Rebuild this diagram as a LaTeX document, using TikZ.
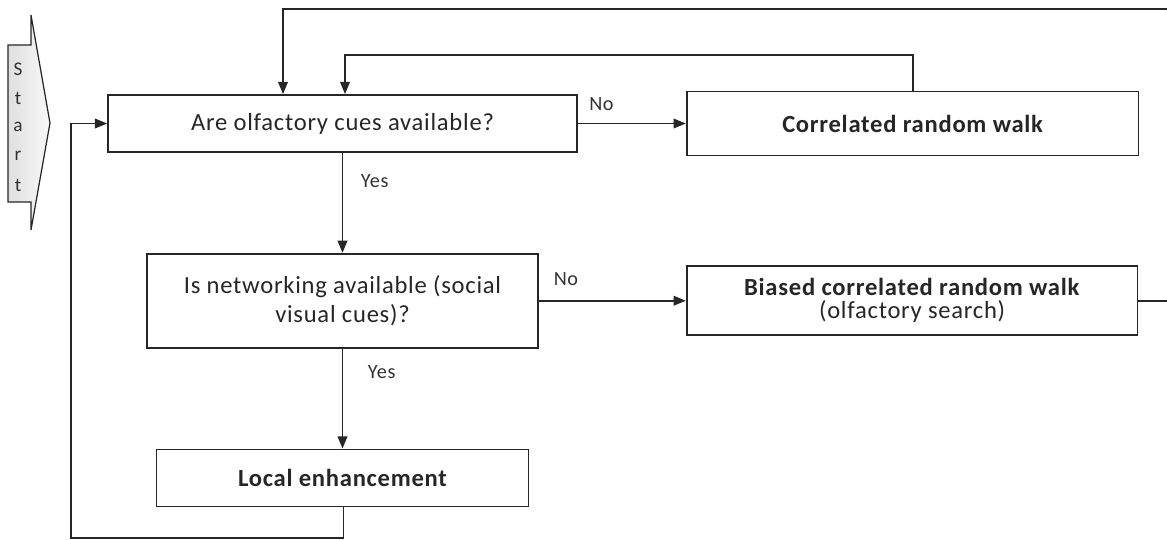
\documentclass[tikz,border=0pt]{standalone}
\usepackage{fontspec}
\setmainfont{Carlito}[LetterSpace=3]
\usetikzlibrary{arrows.meta, positioning}

\begin{document}
\begin{tikzpicture}[x=0.02cm, y=-0.02cm, line width=1pt, draw=black!85,
    >={Triangle[length=7pt, width=5.5pt]},
    box/.style={draw, rectangle, inner sep=2pt, align=center, text=black!85,
                font=\fontsize{14}{16.5}\selectfont},
    lbl/.style={inner sep=1pt, text=black!80, font=\fontsize{11.5}{13}\selectfont}]
    \clip (0,0) rectangle (1167,539);

    % start marker
    \draw[line width=0.7pt, left color=gray!25, right color=gray!5]
        (8,45) -- (31,45) -- (31,15) -- (50,123) -- (31,230) -- (31,202) -- (8,202) -- cycle;
    \foreach \l [count=\i] in {S,t,a,r,t}
        \node[lbl, font=\fontsize{11}{12}\selectfont] (st\i) at (18,40+29*\i) {\l};

    % boxes
    \node[box, minimum width=9.38cm, minimum height=1.14cm] (olf) at (342.5,123.5)
        {Are olfactory cues available?};
    \node[box, minimum width=7.82cm, minimum height=1.88cm] (net) [below=2cm of olf]
        {Is networking available (social\\visual cues)?};
    \node[box, minimum width=7.44cm, minimum height=1.14cm, font=\fontsize{14}{16.5}\selectfont\bfseries]
        (loc) [below=2cm of net] {Local enhancement};
    \node[box, minimum width=9.04cm, minimum height=1.28cm, font=\fontsize{14}{16.5}\selectfont\bfseries]
        (crw) [right=2.16cm of olf] {Correlated random walk};
    \node[box, minimum width=9.02cm, minimum height=1.38cm, font=\fontsize{14}{13}\selectfont] (bcrw) [right=2.94cm of net]
        {\textbf{Biased correlated random walk}\\(olfactory search)};

    \coordinate (topright) at (1200,9);

    % connectors
    \path[->]
    (olf) edge node[lbl, right=9pt, pos=0.28] {Yes} (net)
    (net) edge node[lbl, right=13pt, pos=0.23] {Yes} (loc);
    \draw[->] (olf.east) -- node[lbl, pos=0, anchor=south west, xshift=5pt, yshift=6pt] {No} (crw.west);
    \draw[->] (net.east) -- node[lbl, pos=0, anchor=south west, xshift=7pt, yshift=7pt] {No} (bcrw.west);
    \draw[->] (crw.north) -- ++(0,-36) -| ([xshift=0.05cm]olf.north);
    \draw[->] (bcrw.east) -| (topright) -| ([xshift=-1.19cm]olf.north);
    \draw[->] ([xshift=0.02cm]loc.south) -- ++(0,31) -| ([xshift=-0.72cm]olf.west) -- (olf.west);
\end{tikzpicture}
\end{document}
